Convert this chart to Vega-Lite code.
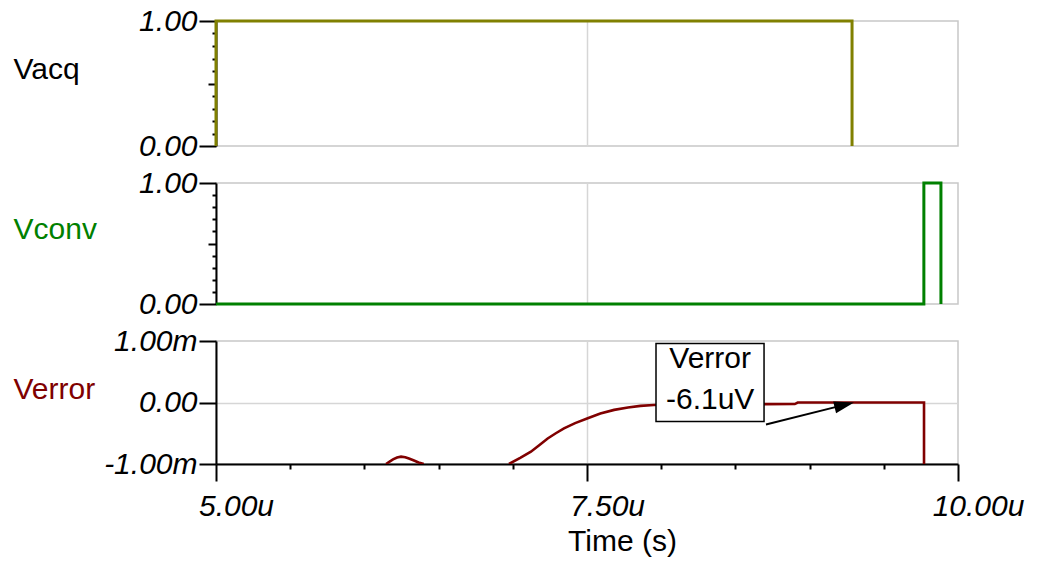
{
  "$schema": "https://vega.github.io/schema/vega-lite/v6.json",
  "padding": {"left": 12, "top": 5, "right": 0, "bottom": 0},
  "background": "white",
  "bounds": "flush",
  "spacing": 37,
  "config": {
    "view": {"stroke": "#c8c8c8", "strokeWidth": 1.5},
    "font": "Liberation Sans",
    "axis": {
      "labelFont": "Liberation Sans", "labelFontSize": 30, "labelFontStyle": "italic", "labelColor": "black",
      "titleFont": "Liberation Sans", "titleFontSize": 30, "titleFontWeight": "normal",
      "domainColor": "black", "tickColor": "black", "gridColor": "#d6d6d6", "gridWidth": 1.5
    }
  },
  "datasets": {
    "vacq": [
      {"i": 0, "t": 5.0, "v": 0},
      {"i": 1, "t": 5.0, "v": 1},
      {"i": 2, "t": 9.286, "v": 1},
      {"i": 3, "t": 9.286, "v": 0}
    ],
    "vconv": [
      {"i": 0, "t": 5.0, "v": 0},
      {"i": 1, "t": 9.77, "v": 0},
      {"i": 2, "t": 9.77, "v": 1},
      {"i": 3, "t": 9.885, "v": 1},
      {"i": 4, "t": 9.885, "v": 0}
    ],
    "verror": [
      {"seg": "a", "i": 0, "t": 6.146, "v": -1.0},
      {"seg": "a", "i": 1, "t": 6.17, "v": -0.96},
      {"seg": "a", "i": 2, "t": 6.193, "v": -0.925},
      {"seg": "a", "i": 3, "t": 6.22, "v": -0.895},
      {"seg": "a", "i": 4, "t": 6.247, "v": -0.88},
      {"seg": "a", "i": 5, "t": 6.275, "v": -0.89},
      {"seg": "a", "i": 6, "t": 6.30, "v": -0.91},
      {"seg": "a", "i": 7, "t": 6.33, "v": -0.94},
      {"seg": "a", "i": 8, "t": 6.365, "v": -0.975},
      {"seg": "a", "i": 9, "t": 6.40, "v": -1.0},
      {"seg": "b", "i": 0, "t": 6.974, "v": -1.0},
      {"seg": "b", "i": 1, "t": 7.05, "v": -0.90},
      {"seg": "b", "i": 2, "t": 7.122, "v": -0.80},
      {"seg": "b", "i": 3, "t": 7.18, "v": -0.69},
      {"seg": "b", "i": 4, "t": 7.235, "v": -0.585},
      {"seg": "b", "i": 5, "t": 7.29, "v": -0.50},
      {"seg": "b", "i": 6, "t": 7.345, "v": -0.42},
      {"seg": "b", "i": 7, "t": 7.42, "v": -0.335},
      {"seg": "b", "i": 8, "t": 7.505, "v": -0.255},
      {"seg": "b", "i": 9, "t": 7.59, "v": -0.18},
      {"seg": "b", "i": 10, "t": 7.683, "v": -0.12},
      {"seg": "b", "i": 11, "t": 7.776, "v": -0.08},
      {"seg": "b", "i": 12, "t": 7.86, "v": -0.055},
      {"seg": "b", "i": 13, "t": 7.95, "v": -0.04},
      {"seg": "b", "i": 14, "t": 8.1, "v": -0.033},
      {"seg": "b", "i": 15, "t": 8.3, "v": -0.03},
      {"seg": "b", "i": 16, "t": 8.706, "v": -0.027},
      {"seg": "b", "i": 17, "t": 8.9, "v": -0.025},
      {"seg": "b", "i": 18, "t": 8.92, "v": 0.0},
      {"seg": "b", "i": 19, "t": 9.771, "v": 0.0},
      {"seg": "b", "i": 20, "t": 9.771, "v": -1.0}
    ],
    "note": [
      {"t1": 7.965, "t2": 8.693, "v1": 0.96, "v2": -0.31}
    ],
    "notetext": [
      {"t": 8.33, "v": 0.553, "txt": "Verror"},
      {"t": 8.33, "v": -0.098, "txt": "-6.1uV"}
    ],
    "arrow": [
      {"t": 8.706, "v": -0.358, "t2": 9.234, "v2": -0.039}
    ],
    "arrowhead": [
      {"t": 9.234, "v": -0.039}
    ]
  },
  "vconcat": [
    {
      "width": 742, "height": 125,
      "data": {"name": "vacq"},
      "mark": {"type": "line", "color": "#808000", "strokeWidth": 3},
      "encoding": {
        "x": {"field": "t", "type": "quantitative", "scale": {"domain": [5, 10], "nice": false, "zero": false},
              "axis": {"values": [7.5], "labels": false, "ticks": false, "domain": false, "title": null, "grid": true}},
        "y": {"field": "v", "type": "quantitative", "scale": {"domain": [0, 1], "nice": false},
              "axis": {
                "values": [0, 0.1, 0.2, 0.3, 0.4, 0.5, 0.6, 0.7, 0.8, 0.9, 1],
                "grid": false, "domainWidth": 2, "tickWidth": 2,
                "tickSize": {"condition": [{"test": "datum.value === 0 || datum.value === 1", "value": 17}, {"test": "datum.value === 0.5", "value": 8}], "value": 4},
                "labelExpr": "datum.value === 0 ? '0.00' : datum.value === 1 ? '1.00' : ''",
                "labelPadding": 2, "labelBaseline": "middle",
                "title": "Vacq", "titleAngle": 0, "titleAlign": "left", "titleBaseline": "alphabetic",
                "titleX": -203, "titleY": 57, "titleColor": "black"
              }},
        "order": {"field": "i", "type": "quantitative"}
      }
    },
    {
      "width": 742, "height": 121,
      "data": {"name": "vconv"},
      "mark": {"type": "line", "color": "#008000", "strokeWidth": 3},
      "encoding": {
        "x": {"field": "t", "type": "quantitative", "scale": {"domain": [5, 10], "nice": false, "zero": false},
              "axis": {"values": [7.5], "labels": false, "ticks": false, "domain": false, "title": null, "grid": true}},
        "y": {"field": "v", "type": "quantitative", "scale": {"domain": [0, 1], "nice": false},
              "axis": {
                "values": [0, 0.1, 0.2, 0.3, 0.4, 0.5, 0.6, 0.7, 0.8, 0.9, 1],
                "grid": false, "domainWidth": 2, "tickWidth": 2,
                "tickSize": {"condition": [{"test": "datum.value === 0 || datum.value === 1", "value": 17}, {"test": "datum.value === 0.5", "value": 8}], "value": 4},
                "labelExpr": "datum.value === 0 ? '0.00' : datum.value === 1 ? '1.00' : ''",
                "labelPadding": 2, "labelBaseline": "middle",
                "title": "Vconv", "titleAngle": 0, "titleAlign": "left", "titleBaseline": "alphabetic",
                "titleX": -203, "titleY": 55, "titleColor": "#008000"
              }},
        "order": {"field": "i", "type": "quantitative"}
      }
    },
    {
      "width": 742, "height": 123,
      "layer": [
        {
          "data": {"name": "verror"},
          "mark": {"type": "line", "color": "#800000", "strokeWidth": 2.6, "clip": true},
          "encoding": {
            "x": {"field": "t", "type": "quantitative", "scale": {"domain": [5, 10], "nice": false, "zero": false},
                  "axis": {
                    "values": [5, 5.25, 5.5, 5.75, 6, 6.25, 6.5, 6.75, 7, 7.25, 7.5, 7.75, 8, 8.25, 8.5, 8.75, 9, 9.25, 9.5, 9.75, 10],
                    "domainWidth": 2, "tickWidth": 2,
                    "tickSize": {"condition": [{"test": "datum.value === 5 || datum.value === 7.5 || datum.value === 10", "value": 17}, {"test": "datum.value === 6.25 || datum.value === 8.75", "value": 10}], "value": 5},
                    "labelExpr": "datum.value === 5 ? '5.00u' : datum.value === 7.5 ? '7.50u' : datum.value === 10 ? '10.00u' : ''",
                    "labelPadding": 10, "labelOffset": 20, "labelFlush": false, "labelAlign": "center",
                    "grid": true,
                    "gridOpacity": {"condition": {"test": "datum.value === 7.5", "value": 1}, "value": 0},
                    "title": "Time (s)", "titleX": 406, "titleY": 86, "titleAlign": "center", "titleBaseline": "alphabetic", "titleColor": "black"
                  }},
            "y": {"field": "v", "type": "quantitative", "scale": {"domain": [-1, 1], "nice": false, "zero": false},
                  "axis": {
                    "values": [-1, -0.75, -0.5, -0.25, 0, 0.25, 0.5, 0.75, 1],
                    "domainWidth": 2, "tickWidth": 2,
                    "tickSize": {"condition": {"test": "datum.value === 0 || datum.value === 1 || datum.value === -1", "value": 17}, "value": 8},
                    "labelExpr": "datum.value === 1 ? '1.00m' : datum.value === -1 ? '-1.00m' : datum.value === 0 ? '0.00' : ''",
                    "labelPadding": 2, "labelBaseline": "middle",
                    "grid": true,
                    "gridOpacity": {"condition": {"test": "datum.value === 0", "value": 1}, "value": 0},
                    "title": "Verror", "titleAngle": 0, "titleAlign": "left", "titleBaseline": "alphabetic",
                    "titleX": -203, "titleY": 57, "titleColor": "#800000"
                  }},
            "detail": {"field": "seg", "type": "nominal"},
            "order": {"field": "i", "type": "quantitative"}
          }
        },
        {
          "data": {"name": "note"},
          "mark": {"type": "rect", "fill": "white", "stroke": "black", "strokeWidth": 1.5},
          "encoding": {
            "x": {"field": "t1", "type": "quantitative"},
            "x2": {"field": "t2"},
            "y": {"field": "v1", "type": "quantitative"},
            "y2": {"field": "v2"}
          }
        },
        {
          "data": {"name": "notetext"},
          "mark": {"type": "text", "font": "Liberation Sans", "fontSize": 30, "align": "center", "baseline": "alphabetic", "color": "black"},
          "encoding": {
            "x": {"field": "t", "type": "quantitative"},
            "y": {"field": "v", "type": "quantitative"},
            "text": {"field": "txt"}
          }
        },
        {
          "data": {"name": "arrow"},
          "mark": {"type": "rule", "color": "black", "strokeWidth": 2},
          "encoding": {
            "x": {"field": "t", "type": "quantitative"},
            "y": {"field": "v", "type": "quantitative"},
            "x2": {"field": "t2"},
            "y2": {"field": "v2"}
          }
        },
        {
          "data": {"name": "arrowhead"},
          "mark": {"type": "point", "filled": true, "shape": "M-1,-0.6L1,0L-1,0.6Z", "size": 400, "angle": -14, "color": "black", "opacity": 1},
          "encoding": {
            "x": {"field": "t", "type": "quantitative"},
            "y": {"field": "v", "type": "quantitative"}
          }
        }
      ]
    }
  ]
}
